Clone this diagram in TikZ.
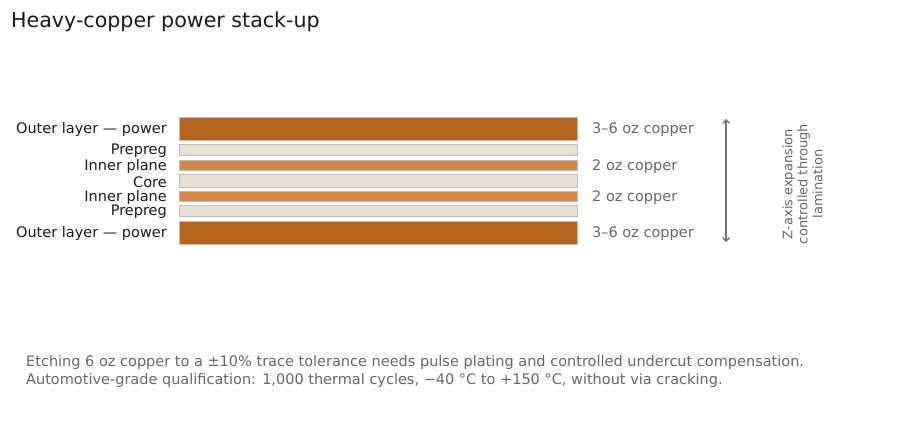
\documentclass[tikz,border=0pt]{standalone}
\usepackage{fontspec}
\setmainfont{DejaVu Sans}
\usetikzlibrary{arrows.meta}
\definecolor{cuDark}{HTML}{B5651E}
\definecolor{cuMid}{HTML}{D0884A}
\definecolor{diel}{HTML}{E8E1D6}
\definecolor{edge}{HTML}{C2BBB1}
\definecolor{inkDark}{HTML}{1A1A1A}
\definecolor{inkGray}{HTML}{666666}
\definecolor{arrowGray}{HTML}{707070}
\tikzset{
  layerbox/.style={draw=edge, line width=0.8pt},
  outerlayer/.style={layerbox, fill=cuDark},
  innerlayer/.style={layerbox, fill=cuMid},
  diellayer/.style={layerbox, fill=diel},
  leftlabel/.style={anchor=east, inner sep=0pt, text=inkDark, font=\fontsize{14.5}{17}\selectfont},
  rightlabel/.style={anchor=west, inner sep=0pt, text=inkGray, font=\fontsize{14.5}{17}\selectfont},
  foot/.style={anchor=west, inner sep=0pt, text=inkGray, font=\fontsize{14.5}{17}\selectfont},
}
\begin{document}
\begin{tikzpicture}[x=1pt, y=-1pt]
\useasboundingbox (0,0) rectangle (908,422);
\node[anchor=west, inner sep=0pt, text=inkDark, font=\fontsize{20.6}{24}\selectfont] (title) at (11,21.5) {Heavy-copper power stack-up};

\draw[outerlayer] (179,117.5) rectangle (577,140.5);
\draw[diellayer]  (179,144.5) rectangle (577,155.5);
\draw[innerlayer] (179,160.5) rectangle (577,170.5);
\draw[diellayer]  (179,174.5) rectangle (577,187.5);
\draw[innerlayer] (179,191.5) rectangle (577,201.5);
\draw[diellayer]  (179,205.5) rectangle (577,216.5);
\draw[outerlayer] (179,221.5) rectangle (577,244.5);

\node[leftlabel] (l1) at (167,130) {Outer layer — power};
\node[leftlabel] (l2) at (167,151) {Prepreg};
\node[leftlabel] (l3) at (167,166.5) {Inner plane};
\node[leftlabel] (l4) at (167,182) {Core};
\node[leftlabel] (l5) at (167,197.5) {Inner plane};
\node[leftlabel] (l6) at (167,212) {Prepreg};
\node[leftlabel] (l7) at (167,234) {Outer layer — power};

\node[rightlabel] (r1) at (592,130) {3–6 oz copper};
\node[rightlabel] (r2) at (592,166.5) {2 oz copper};
\node[rightlabel] (r3) at (592,197.5) {2 oz copper};
\node[rightlabel] (r4) at (592,234) {3–6 oz copper};

\coordinate (atop) at (726,119);
\coordinate (abot) at (726,242);
\draw[arrowGray, line width=1.3pt, {Straight Barb[length=3.5pt,width=7pt]}-{Straight Barb[length=3.5pt,width=7pt]}] (atop) -- (abot);

\node[rotate=90, inner sep=0pt, text=inkGray, align=center, font=\fontsize{13}{15}\selectfont] (zlab) at (802.5,184) {Z-axis expansion\\controlled through\\lamination};

\node[foot] (f1) at (26,362) {Etching 6 oz copper to a ±10\% trace tolerance needs pulse plating and controlled undercut compensation.};
\node[foot] (f2) at (26,380) {Automotive-grade qualification: 1,000 thermal cycles, −40 °C to +150 °C, without via cracking.};
\end{tikzpicture}
\end{document}
